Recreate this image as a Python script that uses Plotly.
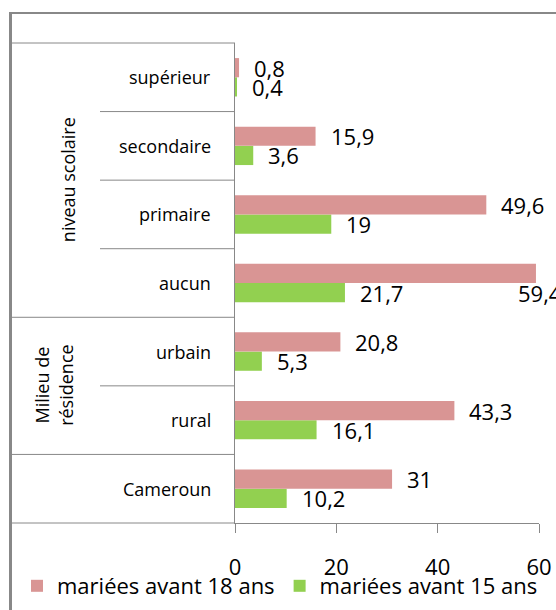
import plotly.graph_objects as go

categories = ["Cameroun", "rural", "urbain", "aucun", "primaire", "secondaire", "supérieur"]
avant18 = [31, 43.3, 20.8, 59.4, 49.6, 15.9, 0.8]
avant15 = [10.2, 16.1, 5.3, 21.7, 19, 3.6, 0.4]
series_names = ["mariées avant 18 ans", "mariées avant 15 ans"]
x_ticks = [0, 20, 40, 60]
groups = [("niveau scolaire", 3, 6), ("Milieu de<br>résidence", 1, 2)]

PINK = "#D99594"
GREEN = "#92D050"
GRAY = "#888888"
FONT = "Open Sans"

W, H = 556, 610
L, T = 235, 43
R = W - 539
B = H - 523
pw = W - L - R
ph = H - T - B

def px_x(px):
    return (px - L) / pw

def px_y(py):
    return (H - B - py) / ph

def fmt(v):
    return f"{v:g}".replace(".", ",")

fig = go.Figure()
# green first so that pink sits on top within each group
fig.add_trace(go.Bar(y=categories, x=avant15, orientation="h", name=series_names[1],
                     marker=dict(color=GREEN, line=dict(width=0))))
fig.add_trace(go.Bar(y=categories, x=avant18, orientation="h", name=series_names[0],
                     marker=dict(color=PINK, line=dict(width=0))))

ann = []
n = len(categories)
off = 0.5 * ph / n * (1 - 0.44) / 2
LBL = dict(size=22, color="#000", family=FONT)
for c, v18, v15 in zip(categories, avant18, avant15):
    ann.append(dict(x=0, xref="paper", y=c, yref="y", text=c, showarrow=False,
                    xanchor="right", yanchor="middle", xshift=-22,
                    font=dict(size=18, color="#000", family=FONT)))
    if v18 >= 55:
        ann.append(dict(x=v18, y=c, text=fmt(v18), showarrow=False, xanchor="left",
                        yanchor="middle", xshift=-20, yshift=-off, font=LBL))
    else:
        ann.append(dict(x=v18, y=c, text=fmt(v18), showarrow=False, xanchor="left",
                        yanchor="middle", xshift=13, yshift=off, font=LBL))
    ann.append(dict(x=v15, y=c, text=fmt(v15), showarrow=False, xanchor="left",
                    yanchor="middle", xshift=13, yshift=-off, font=LBL))

# group labels
ann.append(dict(x=px_x(68), xref="paper", y=5 / 7, yref="paper", text=groups[0][0], textangle=-90,
                xanchor="center", yanchor="middle",
                showarrow=False, font=dict(size=18, color="#000", family=FONT)))
ann.append(dict(x=px_x(54), xref="paper", y=2 / 7, yref="paper", text=groups[1][0], textangle=-90,
                xanchor="center", yanchor="middle",
                showarrow=False, font=dict(size=18, color="#000", family=FONT)))

shapes = []
def hline(x0px, x1px, yfrac, w=1):
    shapes.append(dict(type="line", xref="paper", yref="paper", x0=px_x(x0px), x1=px_x(x1px),
                       y0=yfrac, y1=yfrac, line=dict(color=GRAY, width=w)))

for k in [0, 1, 3, 7]:
    hline(12, 235, k / 7)
for k in [2, 4, 5, 6]:
    hline(100, 235, k / 7)
# outer frame: top and left
shapes.append(dict(type="line", xref="paper", yref="paper", x0=px_x(10), x1=px_x(570),
                   y0=px_y(13), y1=px_y(13), line=dict(color=GRAY, width=2)))
shapes.append(dict(type="line", xref="paper", yref="paper", x0=px_x(10.5), x1=px_x(10.5),
                   y0=px_y(12), y1=px_y(640), line=dict(color=GRAY, width=3)))

fig.update_layout(
    width=W, height=H,
    margin=dict(l=L, r=R, t=T, b=B, autoexpand=False),
    paper_bgcolor="white", plot_bgcolor="white",
    barmode="group", bargap=0.44, bargroupgap=0,
    font=dict(family=FONT, size=22, color="#000"),
    showlegend=True,
    legend=dict(orientation="h", traceorder="reversed",
                x=px_x(17), xanchor="left", y=px_y(565), yanchor="top",
                font=dict(size=22, family=FONT),
                bgcolor="rgba(0,0,0,0)", itemwidth=30, tracegroupgap=0),
    xaxis=dict(range=[0, 60], tickvals=x_ticks, ticktext=[str(t) for t in x_ticks],
               showgrid=False, zeroline=False, showline=True, linecolor=GRAY, linewidth=1,
               ticks="outside", ticklen=9, tickcolor=GRAY, tickfont=dict(size=22),
               ticklabelstandoff=16, fixedrange=True, automargin=False),
    yaxis=dict(categoryorder="array", categoryarray=categories, range=[-0.5, n - 0.5],
               showticklabels=False, showgrid=False, zeroline=False, showline=True,
               linecolor=GRAY, linewidth=1, ticks="", automargin=False, fixedrange=True),
    annotations=ann, shapes=shapes,
)

fig.write_html("out.html", config={"displayModeBar": False},
               post_script="document.body.style.margin='0';document.body.style.overflow='hidden';")
